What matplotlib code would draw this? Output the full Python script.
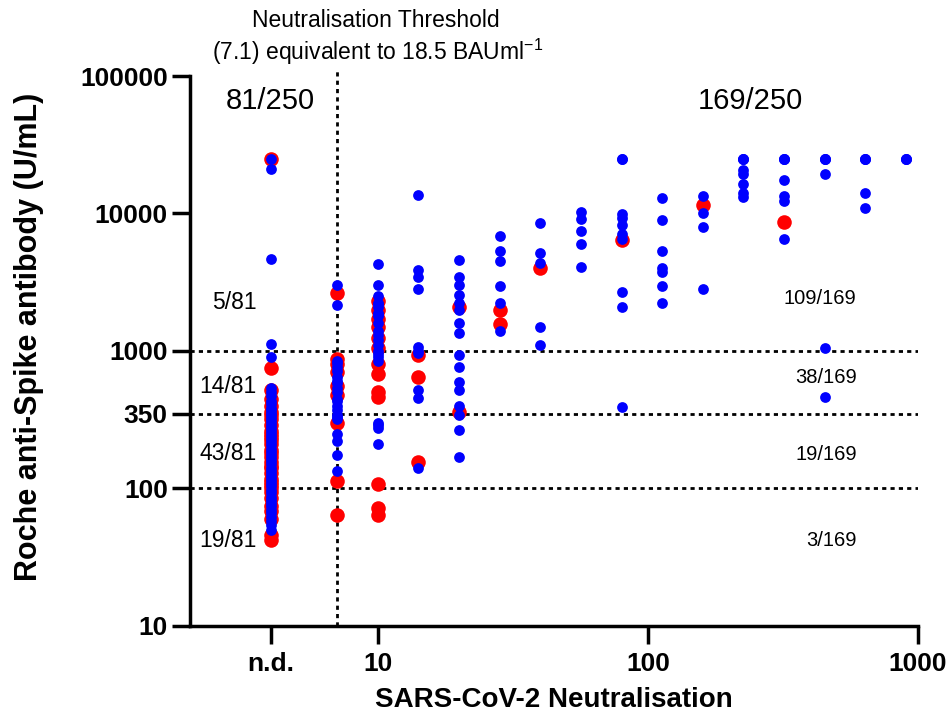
import matplotlib
matplotlib.use("Agg")
import matplotlib.pyplot as plt
from matplotlib.ticker import FixedLocator, NullLocator, FixedFormatter

plt.rcParams['font.family'] = ['Liberation Sans', 'DejaVu Sans']

# x positions (neutralisation titre); n.d. plotted at 4
ND = 4
THRESH = 7.07

# Roche anti-Spike (U/mL) values per neutralisation column, red and blue groups
nd_red = [25000, 750, 520, 450, 400, 360,
          345, 320, 290, 260, 250, 235, 225, 210, 190, 180, 170, 155, 145, 140, 130, 118, 112, 106, 101,
          95, 85, 75, 68, 60, 46, 42]
nd_blue = [25000, 21000, 4700, 1120, 900, 540, 500, 470, 430, 410, 385, 370, 355,
           340, 325, 310, 295, 280, 268, 255, 242, 230, 218, 206, 195, 185, 175, 166, 158, 150, 142,
           135, 128, 121, 115, 109, 104,
           97, 92, 87, 82, 78, 74, 70, 66, 62, 58, 54, 50]

c7_red = [2650, 870, 800, 700, 560, 480, 300, 113, 64]
c7_blue = [3000, 2150, 840, 820, 760, 720, 650, 600, 580, 540, 500, 450, 430, 400, 370,
           345, 330, 320, 250, 220, 175, 133]

c10_red = [2300, 2000, 1700, 1500, 1250, 1050, 800, 680, 500, 460, 108, 72, 64]
c10_blue = [4300, 3000, 2500, 2250, 2200, 2100, 1900, 1850, 1800, 1600, 1400, 1300, 1200, 1100,
            1000, 950, 900, 850, 300, 290, 275, 210]

c14_red = [930, 650, 155]
c14_blue = [13600, 3900, 3450, 2800, 1070, 1000, 960, 520, 455, 140]

c20_red = [2100, 360]
c20_blue = [4600, 3450, 3000, 2550, 2250, 1990, 1600, 1350, 930, 760, 590, 520, 395, 340, 265, 170]

c28_red = [1990, 1570]
c28_blue = [6850, 5300, 4500, 2950, 2250, 1400]

c40_red = [4000]
c40_blue = [8500, 5200, 4400, 1500, 1100]

c57_blue = [10300, 9100, 7500, 6000, 4100]

c80_red = [6400]
c80_blue = [25000, 25000, 9900, 9300, 8200, 7100, 6500, 2700, 2100, 390]

c113_blue = [12900, 9000, 5300, 4000, 3750, 2950, 2250]

c160_red = [11500]
c160_blue = [13400, 10100, 8000, 2800]

c226_blue = [25000, 25000, 25000, 20700, 19500, 16500, 14200, 13200]

c320_red = [8600]
c320_blue = [25000, 25000, 25000, 17500, 13400, 12300, 6500]

c453_blue = [25000, 25000, 25000, 19400, 1050, 460]

c640_blue = [25000, 25000, 25000, 14000, 11000]

c905_blue = [25000, 25000, 25000]

red_columns = [(ND, nd_red), (THRESH, c7_red), (10, c10_red), (14.1, c14_red), (20, c20_red),
               (28.3, c28_red), (40, c40_red), (80, c80_red), (160, c160_red), (320, c320_red)]
blue_columns = [(ND, nd_blue), (THRESH, c7_blue), (10, c10_blue), (14.1, c14_blue), (20, c20_blue),
                (28.3, c28_blue), (40, c40_blue), (56.6, c57_blue), (80, c80_blue), (113, c113_blue),
                (160, c160_blue), (226, c226_blue), (320, c320_blue), (453, c453_blue),
                (640, c640_blue), (905, c905_blue)]

y_ticks = [10, 100, 350, 1000, 10000, 100000]
x_ticks = [ND, 10, 100, 1000]
x_tick_labels = ['n.d.', '10', '100', '1000']
h_lines = [1000, 350, 100]

left_counts = ['5/81', '14/81', '43/81', '19/81']
right_counts = ['109/169', '38/169', '19/169', '3/169']


def flatten(columns):
    xs, ys = [], []
    for x, vals in columns:
        xs += [x] * len(vals)
        ys += vals
    return xs, ys


fig = plt.figure(figsize=(9.5, 7.17), dpi=100)
ax = fig.add_axes([0.2, 0.127, 0.766, 0.767])

for y in h_lines:
    ax.axhline(y, color='black', linestyle=(0, (1.5, 1.5)), linewidth=2, zorder=1)
ax.axvline(THRESH, ymax=1.015, clip_on=False, color='black', linestyle=(0, (1.5, 1.5)),
           linewidth=2, zorder=1)

rx, ry = flatten(red_columns)
bx, by = flatten(blue_columns)
ax.scatter(rx, ry, s=110, color='#ff0000', linewidths=0, zorder=2)
ax.scatter(bx, by, s=60, color='#0000ff', linewidths=0, zorder=3)

ax.set_xscale('log')
ax.set_yscale('log')
ax.set_xlim(2.01, 1000)
ax.set_ylim(10, 100000)

ax.xaxis.set_major_locator(FixedLocator(x_ticks))
ax.xaxis.set_major_formatter(FixedFormatter(x_tick_labels))
ax.xaxis.set_minor_locator(NullLocator())
ax.yaxis.set_major_locator(FixedLocator(y_ticks))
ax.yaxis.set_major_formatter(FixedFormatter([str(v) for v in y_ticks]))
ax.yaxis.set_minor_locator(NullLocator())

for side in ['top', 'right']:
    ax.spines[side].set_visible(False)
for side in ['left', 'bottom']:
    ax.spines[side].set_linewidth(2.5)
ax.tick_params(axis='both', width=2.5, length=13, labelsize=19)
ax.tick_params(axis='x', pad=6)
ax.tick_params(axis='y', pad=3)
for lab in ax.get_xticklabels() + ax.get_yticklabels():
    lab.set_fontweight('bold')

ax.set_xlabel('SARS-CoV-2 Neutralisation', fontsize=20, fontweight='bold')
ax.set_ylabel('Roche anti-Spike antibody (U/mL)', fontsize=22, fontweight='bold')
ax.xaxis.set_label_coords(0.5, -0.111)
ax.yaxis.set_label_coords(-0.2, 0.525)

# group totals
ax.text(ND, 66000, '81/250', fontsize=21, ha='center', va='center')
ax.text(239, 66000, '169/250', fontsize=21, ha='center', va='center')

# counts per band
for lab, y in zip(left_counts, [2270, 547, 181, 42]):
    ax.text(3.56, y, lab, fontsize=16.5, ha='right', va='center')
for lab, y in zip(right_counts, [2390, 637, 178, 42]):
    ax.text(594, y, lab, fontsize=14.5, ha='right', va='center')

fig.text(0.396, 0.972, 'Neutralisation Threshold', fontsize=16.5, ha='center', va='center')
fig.text(0.398, 0.927, r'(7.1) equivalent to 18.5 BAUml$^{\mathregular{-1}}$', fontsize=16.5,
         ha='center', va='center')

fig.savefig('out.png', dpi=100)
